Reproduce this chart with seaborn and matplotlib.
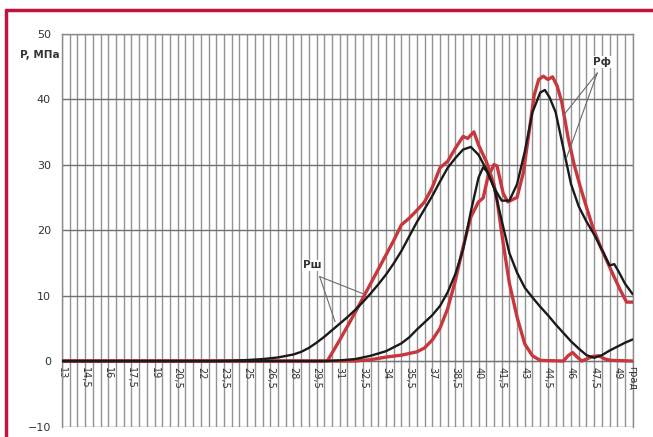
import matplotlib
matplotlib.use("Agg")
import matplotlib.pyplot as plt
import seaborn as sns
import numpy as np
from matplotlib.lines import Line2D

# ---- data ----
x_pw_black = [13, 23, 24, 25, 26, 27, 28, 28.5, 29, 29.5, 30, 30.5, 31, 31.5, 32, 32.5, 33, 33.5, 34, 34.5,
              35, 35.5, 36, 36.5, 37, 37.5, 38, 38.5, 39, 39.5, 40, 40.5, 41, 41.5, 42, 42.5, 43, 43.5,
              44, 44.5, 45, 45.5, 46, 46.5, 47, 47.5, 48, 48.5, 49, 49.5, 50]
y_pw_black = [0, 0, 0.05, 0.15, 0.3, 0.55, 1.0, 1.4, 2.0, 2.8, 3.7, 4.7, 5.7, 6.7, 7.8, 9.0, 10.3, 11.7, 13.2, 14.9,
              16.8, 19.0, 21.2, 23.2, 25.2, 27.4, 29.5, 31.0, 32.3, 32.7, 31.5, 29.3, 26.5, 21.5, 16.5, 13.5, 11.2, 9.7,
              8.3, 7.0, 5.6, 4.3, 3.0, 1.9, 0.9, 0.5, 0.9, 1.6, 2.2, 2.8, 3.3]

x_pw_red = [13, 30.2, 31, 32, 32.5, 33, 33.5, 34, 34.5, 35, 35.5, 36, 36.5, 37, 37.5, 38, 38.5, 39, 39.3, 39.7,
            40, 40.5, 41, 41.2, 41.6, 42, 42.5, 43, 43.5, 44, 45.5, 45.8, 46.1, 46.4, 46.7, 47, 47.4, 47.8,
            48.2, 48.6, 50]
y_pw_red = [0, 0, 3.2, 7.4, 9.6, 11.8, 14.0, 16.2, 18.4, 20.8, 21.8, 23.0, 24.3, 26.5, 29.5, 30.5, 32.5, 34.3, 34.0, 35.0,
            33.0, 30.5, 27.0, 24.6, 18.0, 11.9, 6.7, 2.6, 0.8, 0.1, 0, 0.8, 1.3, 0.6, 0.0, 0.3, 0.7, 0.8,
            0.3, 0.1, 0]

x_pf_black = [13, 30, 31, 32, 33, 34, 35, 35.5, 36, 36.5, 37, 37.5, 38, 38.5, 39, 39.5, 40, 40.3, 40.6, 41,
              41.5, 42, 42.5, 43, 43.5, 44, 44.3, 44.6, 45, 45.5, 46, 46.5, 47, 47.5, 48, 48.5, 48.8, 49.1,
              49.5, 50]
y_pf_black = [0, 0, 0.1, 0.3, 0.8, 1.5, 2.7, 3.6, 4.8, 5.9, 7.0, 8.4, 10.5, 13.3, 17.0, 22.8, 28.0, 29.6, 28.8, 26.5,
              24.5, 24.5, 27.0, 32.0, 38.0, 41.0, 41.4, 40.3, 38.0, 32.5, 27.0, 23.6, 21.3, 19.3, 17.0, 14.6, 14.8, 13.6,
              11.8, 10.2]

x_pf_red = [13, 32, 33, 34, 35, 36, 36.5, 37, 37.5, 38, 38.5, 39, 39.5, 40, 40.3, 40.6, 41, 41.2, 41.6, 41.9,
            42.5, 42.9, 43.3, 43.6, 43.9, 44.2, 44.5, 44.8, 45.1, 45.4, 45.8, 46.2, 46.6, 47, 47.4, 47.9,
            48.3, 48.8, 49.2, 49.6, 50]
y_pf_red = [0, 0, 0.2, 0.6, 0.9, 1.4, 2.0, 3.2, 5.0, 8.0, 12.3, 17.4, 22.0, 24.3, 24.9, 28.0, 30.0, 29.8, 25.6, 24.3,
            25.0, 28.7, 35.3, 40.5, 43.0, 43.5, 43.0, 43.4, 42.0, 39.5, 34.2, 30.0, 26.6, 23.5, 20.5, 17.5,
            15.4, 12.8, 10.8, 9.0, 9.0]

x_ticks = [13, 14.5, 16, 17.5, 19, 20.5, 22, 23.5, 25, 26.5, 28, 29.5, 31, 32.5, 34, 35.5, 37, 38.5, 40,
           41.5, 43, 44.5, 46, 47.5, 49]
x_tick_labels = ["13", "14,5", "16", "17,5", "19", "20,5", "22", "23,5", "25", "26,5", "28", "29,5", "31",
                 "32,5", "34", "35,5", "37", "38,5", "40", "41,5", "43", "44,5", "46", "47,5", "49"]
y_ticks = [-10, 0, 10, 20, 30, 40, 50]

RED = "#c8373c"
BLACK = "#1a1a1a"
GRID = "#939393"

sns.set_style("white")
plt.rcParams['font.family'] = ['DejaVu Sans']

fig = plt.figure(figsize=(6.53, 4.37), dpi=100)
ax = fig.add_axes([0.095, 0.024, 0.874, 0.899])

sns.lineplot(x=x_pw_black, y=y_pw_black, ax=ax, color=BLACK, lw=1.7, sort=False, zorder=4)
sns.lineplot(x=x_pf_black, y=y_pf_black, ax=ax, color=BLACK, lw=1.7, sort=False, zorder=4)
sns.lineplot(x=x_pw_red, y=y_pw_red, ax=ax, color=RED, lw=2.4, sort=False, zorder=3)
sns.lineplot(x=x_pf_red, y=y_pf_red, ax=ax, color=RED, lw=2.4, sort=False, zorder=3)

ax.set_xlim(13, 50)
ax.set_ylim(-10, 50)

# vertical grid every 0.5
for gx in np.arange(13, 50.01, 0.5):
    ax.axvline(gx, color=GRID, lw=1.0, zorder=0.5)
for gy in y_ticks:
    ax.axhline(gy, color="#707070", lw=1.0, zorder=0.6)

ax.set_xticks(x_ticks)
ax.set_xticklabels(x_tick_labels)
ax.set_yticks(y_ticks)
ax.tick_params(axis="x", which="both", length=0, pad=4, labelsize=7, labelcolor="#333333", labelrotation=-90)
ax.tick_params(axis="y", length=0, labelsize=8, colors="#333333", pad=8)
for lbl in ax.get_xticklabels():
    lbl.set_rotation(-90)
    lbl.set_va("top")
    lbl.set_ha("center")
ax.set_xlabel("")
ax.set_ylabel("")

for s in ["top", "right", "left"]:
    ax.spines[s].set_color("#8a8a8a")
    ax.spines[s].set_linewidth(1.0)
ax.spines["bottom"].set_position(("data", 0))
ax.spines["bottom"].set_color("#707070")

# axis titles
ax.text(-0.005, 46.8, "P, МПа", transform=ax.get_yaxis_transform(), ha="right", va="center",
        fontsize=7.5, color="#333333", fontweight="bold")
ax.text(49.95, -0.8, "град", rotation=-90, ha="center", va="top", fontsize=7, color="#333333")

# annotations
ann_color = "#6a6a6a"
ax.text(29.2, 14.6, "Рш", fontsize=7.5, color="#333333", ha="center", va="center", fontweight="bold",
        bbox=dict(facecolor="white", edgecolor="none", pad=0.5), zorder=6)
ax.plot([29.7, 30.7], [12.9, 6.0], color=ann_color, lw=0.8, zorder=5)
ax.plot([29.7, 32.6], [12.9, 10.2], color=ann_color, lw=0.8, zorder=5)
ax.text(48.0, 45.7, "Рф", fontsize=7.5, color="#333333", ha="center", va="center", fontweight="bold",
        bbox=dict(facecolor="white", edgecolor="none", pad=0.5), zorder=6)
ax.plot([47.7, 45.7], [44.0, 31.0], color=ann_color, lw=0.8, zorder=5)
ax.plot([47.7, 45.5], [44.0, 37.5], color=ann_color, lw=0.8, zorder=5)

# red frame
fig.add_artist(Line2D([6 / 653, 6 / 653], [0, 1 - 10 / 437], transform=fig.transFigure, color="#c0143c", lw=2.5))
fig.add_artist(Line2D([6 / 653, 1], [1 - 10 / 437, 1 - 10 / 437], transform=fig.transFigure, color="#c0143c", lw=2.5))

fig.savefig("out.png", dpi=100)
